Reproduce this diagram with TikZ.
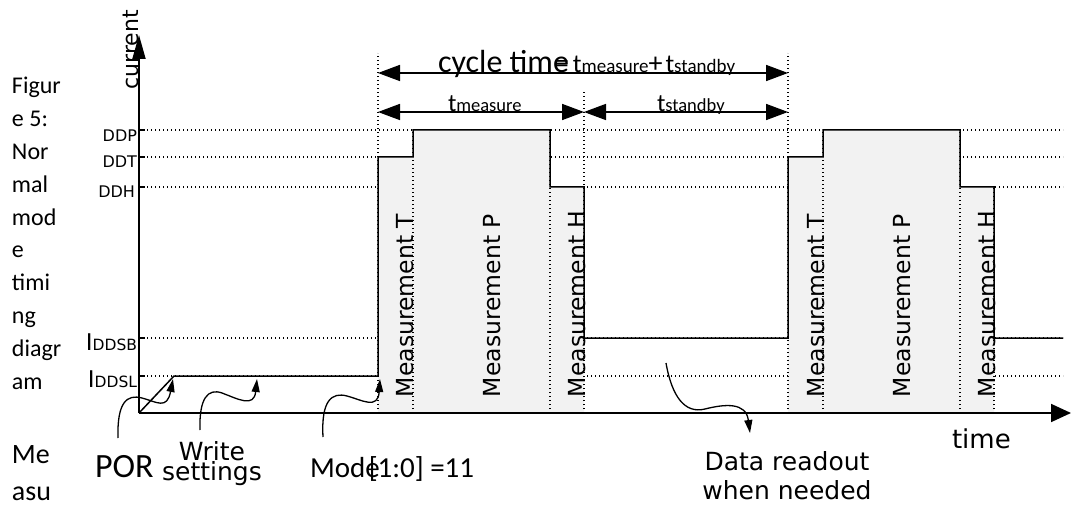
\documentclass[tikz,border=0pt]{standalone}
\usepackage{fontspec}
\usetikzlibrary{arrows.meta}
\newfontfamily\calfont{Carlito}
\newfontfamily\dvfont{DejaVu Sans}
\newcommand\fsz[1]{\fontsize{#1pt}{#1pt}\selectfont}
\definecolor{boxgrey}{RGB}{242,242,242}
\tikzset{
  lvl/.style={line width=1.2pt, dash pattern=on 1.2pt off 2.8pt},
  tick/.style={line width=1.2pt},
  sig/.style={line width=1.5pt, line join=miter},
  axisline/.style={line width=1.8pt},
  dimarrow/.style={line width=1.6pt, {Triangle[length=22pt,width=16pt]}-{Triangle[length=22pt,width=16pt]}},
  wavy/.style={line width=1.3pt, -{Triangle[length=13pt,width=8pt]}},
  lbl/.style={inner sep=0pt, outer sep=0pt},
  meas/.style={lbl, rotate=90, anchor=base west, font=\dvfont\fsz{23.5}},
  side/.style={lbl, anchor=base west, font=\calfont\fsz{24}},
}
\begin{document}
\begin{tikzpicture}[x=1pt, y=-1pt]
\useasboundingbox (0,0) rectangle (1072,508);

% current levels
\foreach \yy in {130,157,187,338,376} {
  \draw[lvl] (139,\yy) -- (1063,\yy);
  \draw[tick] (139,\yy) -- (145,\yy);
}

% measurement phases (two cycles)
\foreach \dx in {0,410}
  \fill[boxgrey, shift={(\dx,0)}] (378,413) -- (378,157) -- (413,157) -- (413,130)
    -- (550,130) -- (550,187) -- (584,187) -- (584,413) -- cycle;

% phase boundaries
\draw[lvl] (378,413) -- (378,53);
\draw[lvl] (413,413) -- (413,130);
\draw[lvl] (550,413) -- (550,130);
\draw[lvl] (584,413) -- (584,92);
\draw[lvl] (788,413) -- (788,53);
\draw[lvl] (823,413) -- (823,130);
\draw[lvl] (960,413) -- (960,130);
\draw[lvl] (994,413) -- (994,187);

% axes
\coordinate (O) at (139,413);
\coordinate (ytip) at (139,35);
\coordinate (xtip) at (1071,413);

% supply current waveform
\draw[sig] (O) -- (174,376) -- (378,376) -- (378,157) -- (413,157) -- (413,130)
  -- (550,130) -- (550,187) -- (584,187) -- (584,338) -- (788,338) -- (788,157)
  -- (823,157) -- (823,130) -- (960,130) -- (960,187) -- (994,187) -- (994,338)
  -- (1063,338);

\draw[axisline, -{Triangle[length=24pt,width=13pt]}] (O) -- (ytip);
\draw[axisline, -{Triangle[length=20pt,width=18pt]}] (O) -- (xtip);

% timing dimensions
\coordinate (c0) at (378,73);
\coordinate (c1) at (788,73);
\coordinate (m0) at (378,112);
\coordinate (m1) at (584,112);
\coordinate (s1) at (788,112);
\draw[dimarrow] (c0) -- (c1);
\draw[dimarrow] (m0) -- (m1);
\draw[dimarrow] (m1) -- (s1);

\node[lbl, anchor=base west, font=\calfont] (cyc) at (438,73)
  {{\fsz{32}cycle time}\kern-14pt{\fsz{28}=}\kern4pt{\fsz{26}t}{\fsz{19}measure}{\fsz{28}+}\kern3pt{\fsz{26}t}{\fsz{19}standby}};
\node[lbl, anchor=base west, font=\calfont] (tm) at (448,112) {{\fsz{25}t}{\fsz{18.5}measure}};
\node[lbl, anchor=base west, font=\calfont] (ts) at (657,112) {{\fsz{25}t}{\fsz{18.5}standby}};

% axis labels
\node[lbl, rotate=90, anchor=base, font=\dvfont\fsz{22}] (cur) at (138.5,50) {current};
\node[lbl, anchor=base west, font=\dvfont\fsz{26}] (tim) at (952,448) {time};

\node[lbl, anchor=base east, font=\dvfont\fsz{16}] (lP) at (137,142) {DDP};
\node[lbl, anchor=base east, font=\dvfont\fsz{16}] (lT) at (137,168) {DDT};
\node[lbl, anchor=base east, font=\dvfont\fsz{16}] (lH) at (135,198) {DDH};
\node[lbl, anchor=base east, font=\dvfont] (lSB) at (137,350) {{\fsz{23}I}{\fsz{15.5}DDSB}};
\node[lbl, anchor=base east, font=\dvfont] (lSL) at (137,387) {{\fsz{23}I}{\fsz{15.5}DDSL}};

% phase names
\node[meas] (mt1) at (413,397) {Measurement T};
\node[meas] (mp1) at (500,397) {Measurement P};
\node[meas] (mh1) at (585,397) {Measurement H};
\node[meas] (mt2) at (824,397) {Measurement T};
\node[meas] (mp2) at (910,397) {Measurement P};
\node[meas] (mh2) at (995,397) {Measurement H};

% event labels
\node[lbl, anchor=base west, font=\calfont\fsz{34}] (por) at (95,477) {POR};
\node[lbl, anchor=north, align=center, font=\dvfont\fontsize{25pt}{20pt}\selectfont] (wrs) at (212,442) {Write\\settings};
\node[lbl, anchor=base west, font=\calfont\fsz{29}] (mode) at (310,477) {Mode\kern-11pt[1:0] =11};
\node[lbl, anchor=north, align=center, font=\dvfont\fontsize{25pt}{29pt}\selectfont] (dro) at (787,452) {Data readout\\when needed};

% caption column
\node[side] (f1) at (12,94) {Figur};
\node[side] (f2) at (12,126.8) {e 5:};
\node[side] (f3) at (12,159.6) {Nor};
\node[side] (f4) at (12,192.4) {mal};
\node[side] (f5) at (12,225.2) {mod};
\node[side] (f6) at (12,258) {e};
\node[side] (f7) at (12,290.8) {timi};
\node[side] (f8) at (12,323.6) {ng};
\node[side] (f9) at (12,356.4) {diagr};
\node[side] (f10) at (12,389.2) {am};
\node[side, font=\calfont\fsz{28}] (f11) at (12,463) {Me};
\node[side, font=\calfont\fsz{28}] (f12) at (12,500) {asu};

% event pointers
\coordinate (porA) at (118,438);
\coordinate (porB) at (173,379);
\coordinate (wrA) at (200,430);
\coordinate (wrB) at (257,379);
\coordinate (mdA) at (323,437);
\coordinate (mdB) at (380,379);
\coordinate (drA) at (666,363);
\coordinate (drB) at (750,433);
\draw[wavy] (porA) .. controls (117,402) and (127,394) .. (142,398)
  .. controls (157,402) and (167,410) .. (porB);
\draw[wavy] (wrA) .. controls (199,398) and (208,388) .. (222,393)
  .. controls (238,399) and (254,408) .. (wrB);
\draw[wavy] (mdA) .. controls (321,400) and (332,392) .. (347,396)
  .. controls (362,400) and (378,410) .. (mdB);
\draw[wavy] (drA) .. controls (672,397) and (685,414) .. (705,409)
  .. controls (725,404) and (746,402) .. (drB);
\end{tikzpicture}
\end{document}
